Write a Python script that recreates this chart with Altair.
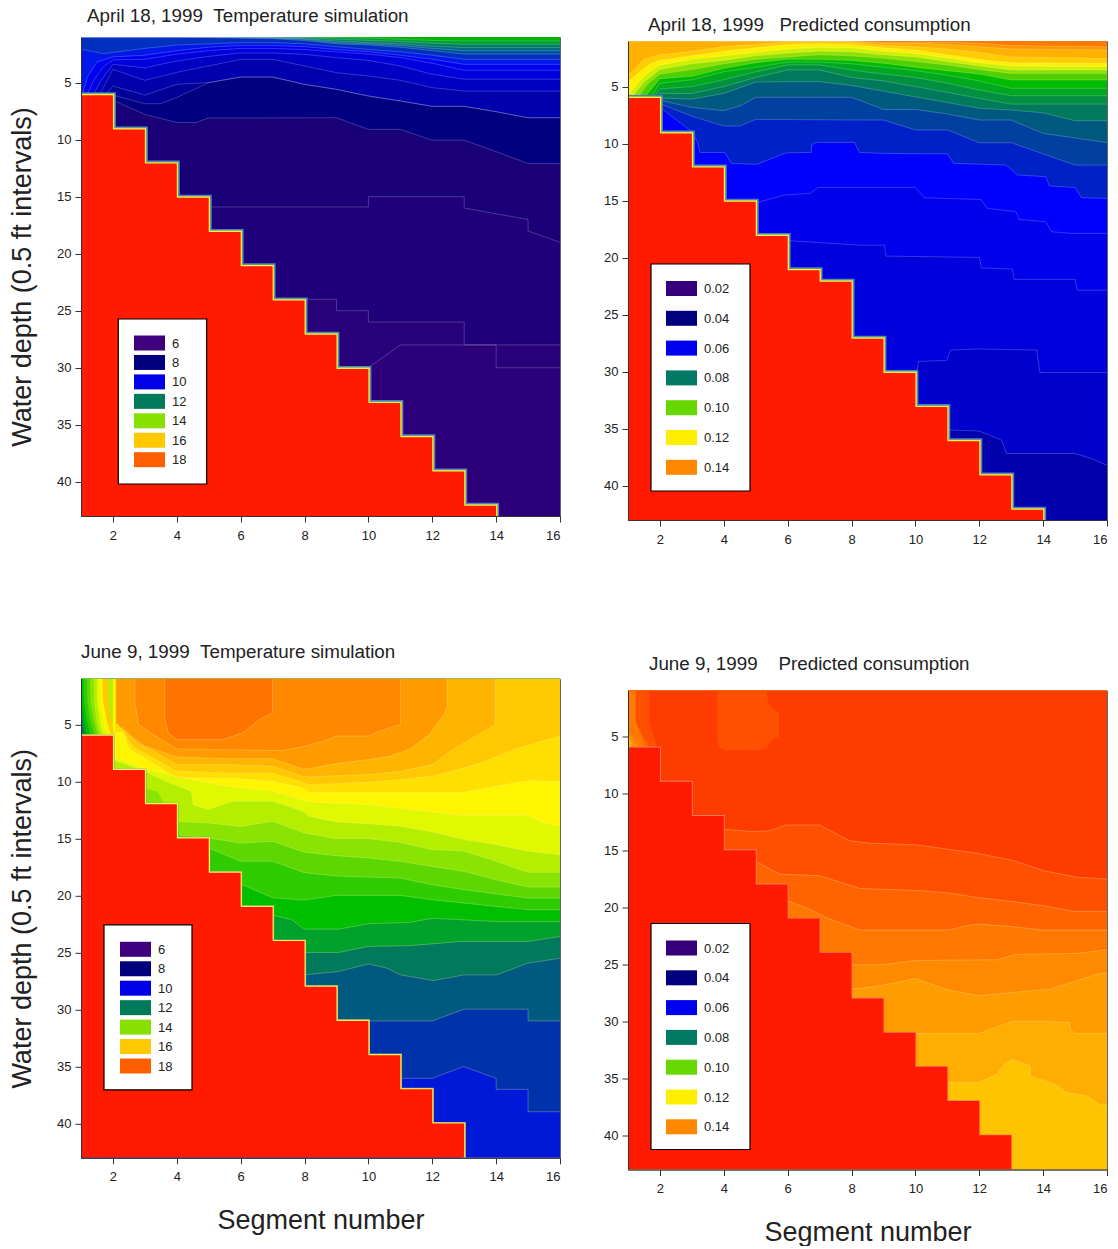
import altair as alt

FONT = "Liberation Sans"
RED = "#ff1a00"
SEGMENT_TICKS = [2, 4, 6, 8, 10, 12, 14, 16]
DEPTH_TICKS = [5, 10, 15, 20, 25, 30, 35, 40]

# bottom profile: depth of the bed for each segment (x, depth)
A_STAIR = [(1,6.1),(2,9.1),(3,12.1),(4,15.1),(5,18.1),(6,21.1),(7,24.1),(8,27.1),(9,30.1),(10,33.1),(11,36.1),(12,39.1),(13,42.1),(14,43)]
B_STAIR = [(1,6),(2,9.1),(3,12.1),(4,15.1),(5,18.1),(6,21.1),(7,22.1),(8,27.1),(9,30.1),(10,33.1),(11,36.1),(12,39.1),(13,42.1),(14,43)]
C_STAIR = [(1,6),(2,9),(3,12),(4,15),(5,18),(6,21),(7,24),(8,28),(9,31),(10,34),(11,37),(12,40),(13,43)]
D_STAIR = [(1,6),(2,9),(3,12),(4,15),(5,18),(6,21),(7,24),(8,28),(9,31),(10,34),(11,37),(12,40),(13,43)]

# April temperature: contour lines, painted top to bottom
A_BASE = "#00b400"
A_COLORS = ["#00a030","#008060","#006a80","#0050a0","#0030c0","#0018e8","#0000f0","#0000dc","#0000c4","#0000ac","#000098","#000080","#1a0078","#20007a","#27007a","#2c007a"]
A_LINES = [
 [(1,1),(8,1),(9,1.05),(10,1.1),(11,1.2),(12,1.3),(13,1.35),(16,1.35)],
 [(1,1),(7,1),(8,1.05),(9,1.2),(10,1.3),(11,1.4),(12,1.55),(13,1.64),(16,1.64)],
 [(1,1),(6,1),(7,1.05),(8,1.15),(9,1.35),(10,1.5),(11,1.6),(12,1.8),(13,1.93),(16,1.93)],
 [(1,1),(5,1),(6,1.05),(7,1.1),(8,1.2),(9,1.5),(10,1.6),(11,1.75),(12,2),(13,2.2),(16,2.2)],
 [(1,1),(4,1),(5,1.05),(6,1.1),(7,1.15),(8,1.3),(9,1.6),(10,1.7),(11,1.9),(12,2.2),(13,2.5),(16,2.5)],
 [(1,2.08),(1.7,2.46),(3,2.0),(4,1.7),(5,1.6),(6,1.5),(7,1.5),(8,1.6),(9,1.85),(10,2.1),(11,2.3),(12,2.6),(13,2.96),(16,2.96)],
 [(1.05,6),(1.2,4.5),(1.5,3.2),(2,2.75),(3,2.6),(4,2.2),(5,1.9),(6,1.75),(7,1.75),(8,1.85),(9,2.1),(10,2.3),(11,2.6),(12,2.95),(13,3.4),(16,3.4)],
 [(1.2,6),(1.4,4.8),(1.7,3.6),(2,3.0),(3,2.96),(4,2.5),(5,2.2),(6,2.0),(7,2.0),(8,2.1),(9,2.3),(10,2.5),(11,2.8),(12,3.3),(13,3.92),(16,3.92)],
 [(1.4,6),(1.6,4.9),(2,3.4),(3,3.7),(4,3.1),(5,2.7),(6,2.4),(7,2.4),(8,2.52),(9,2.81),(10,3.05),(11,3.54),(12,4.27),(13,4.7),(16,4.7)],
 [(1.6,6),(1.8,4.9),(2,3.84),(3,4.8),(4,4.1),(5,3.54),(6,2.96),(7,2.96),(8,3.54),(9,4.13),(10,4.42),(11,4.8),(12,5.44),(13,5.74),(16,5.74)],
 [(1.8,6),(2,5.3),(3,6.09),(4,5.15),(5,5.0),(6,4.51),(7,4.51),(8,5.15),(9,5.59),(10,6.17),(11,6.61),(12,7.08),(13,7.08),(14,7.55),(15,8.08),(16,8.08)],
 [(2,6.1),(3,6.85),(3.5,6.85),(4,6.3),(5,5.0),(6,4.51),(7,4.51),(8,5.15),(9,5.59),(10,6.17),(11,6.61),(12,7.08),(13,7.08),(14,7.55),(15,8.08),(16,8.08)],
 [(2,6.55),(3,7.78),(4,8.5),(4.6,8.5),(5,8.1),(6,8.1),(9,8.08),(10,9.1),(11,9.1),(12,10.05),(13,10.05),(14,11.05),(15,12.1),(16,12.1)],
 [(5,15.9),(9,15.9),(10,15.9),(10,15),(13,15),(13,16),(15,17),(15,18),(16,19)],
 [(8,24),(9,24),(9,25),(10,25),(10,26),(13,26),(13,28),(16,28)],
 [(10,30),(11,28),(14,28),(14,30),(16,30)],
]

# April consumption: contour lines, painted top to bottom
B_BASE = "#ff7a00"
B_COLORS = ["#ff9600","#ffb000","#ffcc00","#fff000","#d0f000","#90e000","#50d000","#00bc00","#00a820","#009040","#007a5a","#005a80","#0040a0","#0020c8","#0000ff","#0000ec","#0000dc","#0000cc","#0000ac"]
B_LINES = [
 [(1,1),(8,1),(9,1.1),(11,1.1),(12,1.2),(13,1.4),(16,1.5)],
 [(1,1),(7,1),(8,1.05),(9,1.2),(10,1.2),(11,1.3),(12,1.5),(13,1.7),(16,1.79)],
 [(1,4),(1.5,2.6),(2,2.2),(3,1.9),(4,1.5),(5,1.3),(6,1.1),(7,1.08),(8,1.1),(9,1.4),(10,1.5),(11,1.7),(12,2),(13,2.4),(16,2.52)],
 [(1,4.6),(1.4,3.6),(1.7,3),(2,2.7),(3,2.3),(4,1.9),(5,1.6),(6,1.3),(7,1.25),(8,1.3),(9,1.6),(10,1.8),(11,2.2),(12,2.6),(13,2.9),(16,2.96)],
 [(1.05,5.6),(1.4,4.4),(1.7,3.6),(2,3.1),(3,2.6),(4,2.3),(5,2),(6,1.7),(7,1.55),(8,1.6),(9,1.9),(10,2.1),(11,2.5),(12,2.9),(13,3.2),(16,3.25)],
 [(1.1,6),(1.5,4.6),(2,3.5),(3,3),(4,2.7),(5,2.3),(6,2.05),(7,1.9),(8,1.95),(9,2.2),(10,2.4),(11,2.8),(12,3.2),(13,3.54),(16,3.54)],
 [(1.3,6),(1.6,4.8),(2,3.9),(3,3.5),(4,3),(5,2.6),(6,2.4),(7,2.2),(8,2.3),(9,2.5),(10,2.8),(11,3.1),(12,3.5),(13,3.84),(16,3.84)],
 [(1.5,6),(2,4.3),(3,4.1),(4,3.4),(5,2.9),(6,2.6),(7,2.61),(8,2.7),(9,2.95),(10,3.3),(11,3.6),(12,3.9),(13,4.42),(16,4.42)],
 [(1.7,6),(2,4.7),(3,4.4),(4,3.7),(5,3.3),(6,2.85),(7,2.85),(8,3.0),(9,3.3),(10,3.6),(11,4.0),(12,4.5),(13,5.15),(16,5.15)],
 [(1.8,6),(2,5.2),(3,5.0),(4,4.4),(5,3.7),(6,3.1),(7,3.1),(8,3.55),(9,3.9),(10,4.2),(11,4.7),(12,5.3),(13,5.8),(16,5.8)],
 [(1.9,6),(2,5.6),(3,5.6),(4,5),(5,4.2),(6,3.54),(7,3.54),(8,4.2),(9,4.5),(10,5),(11,5.5),(12,6.03),(13,6.53),(16,6.53)],
 [(2,6),(3,6.1),(4,5.6),(5,4.6),(6,4.57),(7,4.57),(8,4.9),(9,5.4),(10,5.9),(11,6.4),(12,6.9),(13,7.05),(14,7.3),(15,7.99),(16,7.99)],
 [(2,6.2),(3,6.82),(4,7.11),(4.5,6.7),(5,5.94),(8,5.94),(8.25,6.2),(9,7),(10,7),(11,7.4),(12,7.93),(13,7.93),(14,9.1),(15,9.5),(16,9.92)],
 [(2,6.5),(3,7.6),(4,8.46),(4.5,8.46),(5,7.87),(8.25,7.93),(9,7.93),(10,8.8),(11,8.8),(12,9.92),(13,9.92),(15,11.88),(16,11.88)],
 [(2,6.82),(2.52,7.93),(3,8.95),(3.17,9.83),(3.25,10.77),(4.03,10.77),(4.24,11.73),(5.02,11.82),(5.96,10.8),(6.74,10.77),(6.75,10.1),(6.9,9.89),(8.09,9.89),(8.25,10.77),(8.88,10.85),(11,10.9),(11.2,11.73),(12.84,11.88),(13.2,12.75),(14.08,12.9),(14.2,13.72),(15,13.84),(15.2,14.74),(16,14.8)],
 [(5,15.2),(5.9,14.5),(6.7,14.36),(6.95,13.84),(8.56,13.84),(10,13.84),(10.28,14.74),(12.05,14.9),(12.26,15.68),(13.15,15.97),(13.25,16.65),(14.08,16.85),(14.27,17.73),(14.9,17.87),(16,17.87)],
 [(6,18.5),(8.25,18.9),(9.03,18.9),(9.08,19.86),(12,19.98),(12.07,20.9),(13.04,21),(13.09,21.9),(15,21.9),(15.07,22.85),(16,22.85)],
 [(10.04,33),(10.04,30),(10.1,29.1),(10.98,29),(11.1,28.1),(11.9,28),(13.8,28.1),(13.9,30.07),(16,30.07)],
 [(11,35.1),(12,35.2),(12.7,36),(12.85,37.17),(15,37.17),(15.5,37.6),(16,38.2)],
]

# June temperature: regions above each contour line, painted deep to shallow
C_BASE = "#0018d8"
C_COLORS = ["#0033ab","#005a80","#007a5a","#00a22c","#00bf00","#2ecc00","#5cd800","#88e400","#b5ef00","#e0f800","#fff500","#ffdf00","#ffc800","#ffb400","#ff9a00","#ff8800","#ff7300"]
C_LINES = [
 [(1,36.03),(12,36.03),(12.98,35),(14,36.03),(14,37),(15,37),(15,38.96),(16,38.96)],
 [(1,31),(12,31),(13,29.97),(15,29.97),(15,31),(16,31)],
 [(1,26.96),(8,26.96),(9.06,26.67),(10,26),(10.58,26.37),(11,26.96),(12.04,27.46),(13,26.96),(14.02,26.96),(15,25.93),(16,25.5)],
 [(1,25),(9.06,25),(10,24.47),(11.3,24.4),(12.93,24.03),(15,24.03),(16,23.6)],
 [(1,21),(6,21),(7.6,22.13),(8,22.95),(9.06,22.95),(10,22.48),(11.3,22.36),(12,22),(14,22.28),(16,22.28)],
 [(1,19),(6,19),(7,20.2),(8,20.4),(9,19.99),(11,19.99),(12,20.37),(14,20.96),(15,21.25),(16,21.25)],
 [(1,15.84),(5,15.84),(6,17),(7,17),(8,18),(9,18.3),(11,18.47),(12,19.06),(13,19.5),(15,20.23),(16,20.23)],
 [(1,14.67),(4,14.67),(5,14.96),(6,15.4),(7,15.25),(8,16.2),(9,16.51),(10,16.71),(11,17),(12,17.45),(13,17.89),(14,18.62),(15,19.26),(16,19.26)],
 [(1,13.5),(4,13.5),(5,13.64),(6,13.94),(7,13.5),(8,14.52),(9,15.02),(10,15.02),(11,15.34),(12,15.98),(13,16.1),(14,17),(15,17.97),(16,17.97)],
 [(2,8.08),(3,9.1),(3.78,10.13),(4.46,10.86),(4.51,12.03),(4.98,12.47),(5.76,11.74),(7.01,11.74),(7.95,12.62),(8.16,13.06),(9,13.55),(10,13.7),(11,13.93),(12,14.43),(13,15.1),(14,15.54),(15,16.13),(16,16.42)],
 [(2,7.9),(3,8.9),(4,9.55),(5.55,10.42),(7,10.86),(8.16,11.8),(10,12.03),(12,12.7),(13,12.97),(15,12.97),(15.5,13.64),(16,13.93)],
 [(2.06,5.74),(2.32,5.74),(2.53,7.2),(3,7.94),(4,9.69),(5.55,9.69),(7,9.98),(7.95,10.57),(8.16,10.95),(13,10.95),(14,10.42),(15,9.93),(16,9.98)],
 [(2.38,5.89),(2.64,7.06),(3.16,7.79),(4,9.11),(5.55,9.25),(7,9.25),(7.95,10.1),(8.16,10.28),(9,10.2),(10,10.07),(11,9.84),(12,9.55),(13,8.81),(13.68,8.23),(14.4,7.35),(15.05,6.76),(16,6.03)],
 [(2.32,5.16),(2.74,6.62),(3.26,7.35),(4,8.52),(5.55,8.52),(7,8.67),(7.95,9.55),(8.16,9.6),(9,9.49),(10,9.4),(11,9.11),(12.01,8.52),(12.64,7.2),(13.26,6.18),(13.97,5),(13.97,1)],
 [(2.1,4.9),(2.5,5.9),(3,6.9),(4,7.85),(5.55,8),(7,8),(7.95,8.9),(8.16,8.87),(9,8.43),(10,8.08),(10.66,7.79),(11.28,7.2),(11.91,5.89),(12.4,4),(12.46,3.4),(12.46,1)],
 [(2.69,1),(2.69,3.11),(2.8,5),(3.26,5.89),(4,7.15),(7.3,7.29),(8,6.91),(8.6,6.47),(9,6.03),(10,6.03),(10.35,5.59),(11,5),(11,1)],
 [(3.63,1),(3.63,4.57),(3.73,5.74),(3.99,6.33),(5.45,6.33),(6.07,5.74),(6.6,4.57),(7,3.98),(7,1)],
]
C_PATCH_COLOR = "#88e400"
C_PATCH = [(3,10.6,12.1),(3.4,10.9,12.1),(3.6,11.9,12.1)]
# fan of contours in the upper-left corner: x position at depths 1, 3.1, 4.86, 6.03
FAN_DEPTHS = [1, 3.1, 4.86, 6.03]
C_FAN_COLORS = ["#ffc800","#fff500","#e0f800","#b5ef00","#88e400","#5cd800","#2ecc00","#00bf00","#00a22c","#007a5a","#005a80"]
C_FAN = [
 [1.85,1.86,1.96,2.04],[1.67,1.70,1.82,1.96],[1.57,1.59,1.70,1.82],[1.49,1.51,1.59,1.70],
 [1.39,1.41,1.49,1.61],[1.28,1.30,1.41,1.54],[1.18,1.20,1.30,1.44],[1.07,1.10,1.20,1.30],
 [1.02,1.02,1.11,1.20],[1,1,1.05,1.13],[1,1,1,1.05],
]

# June consumption: regions above each contour line, painted deep to shallow
D_BASE = "#ffc400"
D_COLORS = ["#ffad00","#ff9c00","#ff8a00","#ff7800","#ff6400","#ff5000","#ff3c00"]
D_LINES = [
 [(1,35.38),(10.99,35.38),(11.98,35.38),(12.56,34.65),(12.77,33.77),(13.03,33.33),(13.6,33.92),(13.6,34.8),(14.38,35.53),(14.75,36.26),(15.38,36.55),(15.74,37.28),(16,37.28)],
 [(1,31.08),(11.98,31.08),(13.03,30),(14.02,30),(14.83,30.11),(14.85,30.76),(15.01,31.08),(16,31.08)],
 [(1,27.13),(8.28,27.13),(9,26.83),(10,26.25),(10.94,27.19),(11.98,27.77),(12.77,27.54),(14.23,27.19),(15.69,25.87),(16,25.78)],
 [(1,25.08),(9,25.05),(10,24.67),(12.56,24.61),(13.14,24.14),(15.06,24.05),(16,23.73)],
 [(1,19.44),(6,19.44),(6.69,20.17),(7.2,20.9),(8.04,21.78),(8.28,22),(11.04,22),(11.62,21.62),(11.98,21.48),(12.97,21.68),(13.97,22),(16,22)],
 [(1,15.93),(4.97,15.93),(5.75,17.1),(7,17.24),(8.25,18.35),(10.16,18.55),(11.04,18.76),(11.93,19.14),(13.08,19.52),(14.02,19.87),(14.95,20.37),(16,20.37)],
 [(1,13.15),(4,13.15),(4.92,13.38),(5.44,13.29),(5.96,12.79),(7,12.79),(7.94,14.17),(8.56,14.38),(10.05,14.54),(11.93,15.27),(13.08,15.92),(14.02,16.8),(15.06,17.38),(16,17.53)],
]
D_BLOB_COLOR = "#ff5000"
D_BLOB = [(3.79,1,5.1),(3.84,1,5.98),(4.03,1,6.24),(5.07,1,6.24),(5.33,1,6.06),(5.39,2.02,5.8),(5.49,2.46,5.39),(5.73,2.99,5.01)]
D_FAN_DEPTHS = [1, 3.78, 4.66, 5.98]
D_FAN_COLORS = ["#ff5000","#ff6400","#ff7800","#ff8a00","#ff9c00","#ffad00"]
D_FAN = [
 [1.67,1.67,1.77,1.90],[1.24,1.24,1.40,1.69],[1.24,1.24,1.38,1.53],
 [1,1,1.02,1.38],[1,1,1,1.2],[1,1,1,1.1],
]

TEMP_LABELS = ["6","8","10","12","14","16","18"]
TEMP_SWATCHES = ["#3f007d","#00007f","#0000e8","#007a5a","#88e000","#ffc800","#ff5f00"]
CONS_LABELS = ["0.02","0.04","0.06","0.08","0.10","0.12","0.14"]
CONS_SWATCHES = ["#36007d","#00007f","#0000f0","#007a64","#66d800","#ffee00","#ff8800"]

XS = alt.Scale(domain=[1, 16], nice=False, zero=False)
YS = alt.Scale(domain=[1, 43], nice=False, zero=False, reverse=True)
ONE = alt.Data(values=[{"k": 1}])

def enc_x():
    return alt.X("x:Q", scale=XS, axis=None)

def enc_y():
    return alt.Y("y:Q", scale=YS, axis=None, stack=None)

def region(color, pts, floor):
    vals = [{"x": p[0], "y": p[1], "y2": floor} for p in pts]
    return alt.Chart(alt.Data(values=vals)).mark_area(color=color, clip=True, orient="vertical", opacity=1).encode(
        x=enc_x(), y=enc_y(), y2=alt.Y2("y2:Q"))

def patch(color, pts):
    vals = [{"x": p[0], "y": p[1], "y2": p[2]} for p in pts]
    return alt.Chart(alt.Data(values=vals)).mark_area(color=color, clip=True, orient="vertical", opacity=1).encode(
        x=enc_x(), y=enc_y(), y2=alt.Y2("y2:Q"))

def fan(color, depths, xs):
    vals = [{"x": a, "y": d, "x2": 1} for a, d in zip(xs, depths)]
    return alt.Chart(alt.Data(values=vals)).mark_area(color=color, clip=True, orient="horizontal", opacity=1).encode(
        x=alt.X("x:Q", scale=XS, axis=None, stack=None), x2=alt.X2("x2:Q"), y=alt.Y("y:Q", scale=YS, axis=None))

def contours(lines, stroke, opacity):
    vals = []
    for n, pts in enumerate(lines):
        vals += [{"x": p[0], "y": p[1], "n": n, "i": i} for i, p in enumerate(pts)]
    return alt.Chart(alt.Data(values=vals)).mark_line(color=stroke, opacity=opacity, strokeWidth=0.7, clip=True).encode(
        x=enc_x(), y=enc_y(), detail="n:N", order=alt.Order("i:Q"))

def stair_line(pts, color, width):
    vals = [{"x": p[0], "y": p[1]} for p in pts]
    return alt.Chart(alt.Data(values=vals)).mark_line(color=color, strokeWidth=width, interpolate="step-after", clip=True).encode(x=enc_x(), y=enc_y())

def stair_area(pts):
    vals = [{"x": p[0], "y": p[1], "y2": 43} for p in pts]
    return alt.Chart(alt.Data(values=vals)).mark_area(color=RED, interpolate="step-after", clip=True, opacity=1, orient="vertical").encode(
        x=enc_x(), y=enc_y(), y2=alt.Y2("y2:Q"))

def base_layer(color, x_title, y_title):
    xax = dict(values=SEGMENT_TICKS, grid=False, labelFont=FONT, labelFontSize=13, labelColor="#222", tickSize=6, tickColor="#333",
               domainColor="#333", labelPadding=7, zindex=1, format="d")
    yax = dict(values=DEPTH_TICKS, grid=False, labelFont=FONT, labelFontSize=13, labelColor="#222", tickSize=6, tickColor="#333",
               domainColor="#333", labelPadding=4, zindex=1, format="d")
    if x_title:
        xax.update(title=x_title, titleFont=FONT, titleFontSize=27, titleFontWeight="normal", titleColor="#222", titlePadding=24)
    else:
        xax.update(title=None)
    if y_title:
        yax.update(title=y_title, titleFont=FONT, titleFontSize=27, titleFontWeight="normal", titleColor="#222", titlePadding=20)
    else:
        yax.update(title=None)
    vals = [{"x": 1, "y": 1, "y2": 43}, {"x": 16, "y": 1, "y2": 43}]
    return alt.Chart(alt.Data(values=vals)).mark_area(color=color, opacity=1, orient="vertical").encode(
        x=alt.X("x:Q", scale=XS, axis=alt.Axis(**xax)),
        y=alt.Y("y:Q", scale=YS, axis=alt.Axis(**yax), stack=None),
        y2=alt.Y2("y2:Q"))

def legend(labels, colors, box, sw_left, sw_top, step):
    l, t, r, b = box
    out = [alt.Chart(ONE).mark_rect(fill="white", stroke="black", strokeWidth=1.2).encode(
        x=alt.value(l), x2=alt.value(r), y=alt.value(t), y2=alt.value(b))]
    for i, (lab, col) in enumerate(zip(labels, colors)):
        y0 = sw_top + step * i
        out.append(alt.Chart(ONE).mark_rect(fill=col).encode(
            x=alt.value(sw_left), x2=alt.value(sw_left + 31), y=alt.value(y0), y2=alt.value(y0 + 15)))
        out.append(alt.Chart(ONE).mark_text(text=lab, align="left", baseline="middle", font=FONT, fontSize=13, color="#222").encode(
            x=alt.value(sw_left + 38), y=alt.value(y0 + 8)))
    return out

def panel(title, tdx, toffset, base, colors, lines, floor, stair, fringe, lg, x_title=None, y_title=None, extra=None, line_stroke="#ffffff", line_op=0.3):
    layers = [base_layer(base, x_title, y_title)]
    layers += [region(c, p, floor) for c, p in zip(colors, lines)]
    layers += (extra or [])
    layers.append(contours(lines, line_stroke, line_op))
    layers += [stair_line(stair, c, w) for c, w in fringe]
    layers.append(stair_area(stair))
    layers += lg
    return alt.layer(*layers).resolve_axis(x="independent", y="independent").properties(
        width=479, height=479,
        title=alt.TitleParams(title, anchor="start", frame="group", dx=tdx, offset=toffset, font=FONT, fontSize=18.8, fontWeight="normal", color="#222"))

def spacer():
    return alt.Chart(ONE).mark_text(text="").encode(x=alt.value(0), y=alt.value(0)).properties(
        width=479, height=1, view=alt.ViewConfig(stroke=None))

FRINGE_COLD = [("#5a78c8", 6), ("#58c070", 3.6), ("#ffee40", 2.4)]
FRINGE_WARM = [("#60b070", 3.2), ("#ffee60", 2.4)]
FRINGE_PALE = [("#ff7a60", 1.8)]

a = panel("April 18, 1999\u00a0\u00a0Temperature simulation", 6, 11.2, A_BASE, A_COLORS, A_LINES, 43, A_STAIR, FRINGE_COLD,
          legend(TEMP_LABELS, TEMP_SWATCHES, (37.3, 282, 125.7, 447), 53, 298.5, 19.45), y_title="Water depth (0.5 ft intervals)")
b = panel("April 18, 1999\u00a0\u00a0\u00a0Predicted consumption", 20, 6, B_BASE, B_COLORS, B_LINES, 43, B_STAIR, FRINGE_COLD,
          legend(CONS_LABELS, CONS_SWATCHES, (23, 223, 122, 450), 38, 240, 29.8))
c_extra = [patch(C_PATCH_COLOR, C_PATCH)] + [fan(col, FAN_DEPTHS, xs) for col, xs in zip(C_FAN_COLORS, C_FAN)]
c = panel("June 9, 1999\u00a0\u00a0Temperature simulation", 0, 17, C_BASE, C_COLORS, C_LINES, 1, C_STAIR, FRINGE_WARM,
          legend(TEMP_LABELS, TEMP_SWATCHES, (23, 246, 111, 411), 39, 263, 19.45),
          x_title="Segment number", y_title="Water depth (0.5 ft intervals)", extra=c_extra, line_stroke="#fff2b0", line_op=0.4)
d_extra = [patch(D_BLOB_COLOR, D_BLOB)] + [fan(col, D_FAN_DEPTHS, xs) for col, xs in zip(D_FAN_COLORS, D_FAN)]
d = panel("June 9, 1999\u00a0\u00a0\u00a0\u00a0Predicted consumption", 21, 16.7, D_BASE, D_COLORS, D_LINES, 1, D_STAIR, FRINGE_PALE,
          legend(CONS_LABELS, CONS_SWATCHES, (23, 233, 122, 459), 38, 250, 29.8),
          x_title="Segment number", extra=d_extra, line_stroke="#ffe0a0", line_op=0.45)

left = alt.vconcat(alt.vconcat(spacer(), a, spacing=0), c, spacing=98.8)
right = alt.vconcat(alt.vconcat(spacer(), b, spacing=9), d, spacing=107.5)
chart = alt.hconcat(left, right, spacing=42).properties(
    padding={"left": 0, "top": -13, "right": 0, "bottom": 0}, background="white").configure_view(stroke="#666", strokeWidth=1)
chart.save("out.html", embed_options={"renderer": "svg", "actions": False})
